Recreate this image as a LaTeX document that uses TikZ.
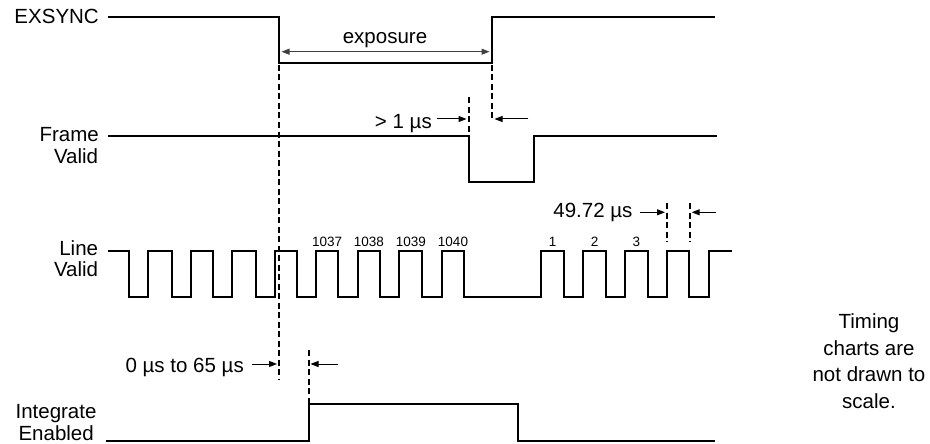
\documentclass[tikz,border=0pt]{standalone}
\usepackage{fontspec}
\setmainfont{Liberation Sans}
\usetikzlibrary{arrows.meta}
\begin{document}
\begin{tikzpicture}[x=1pt,y=-1pt,
  sig/.style={line width=2pt, line join=miter, line cap=butt},
  guide/.style={line width=1.8pt, dash pattern=on 6pt off 3.5pt},
  dim/.style={line width=1pt, -{Triangle[length=8pt,width=6pt]}},
  lbl/.style={font=\fontsize{20.5}{22}\selectfont, inner sep=0pt},
  num/.style={font=\fontsize{13.5}{15}\selectfont, inner sep=0pt, anchor=base},
]
\useasboundingbox (0,0) rectangle (930,444);
% signal names
\node[lbl, anchor=base east] (exsync) at (99,24) {EXSYNC};
\node[lbl, anchor=base east] (frame1) at (99,141.7) {Frame};
\node[lbl, anchor=base east] (frame2) at (98.3,163.3) {Valid};
\node[lbl, anchor=base east] (line1) at (98.3,255) {Line};
\node[lbl, anchor=base east] (line2) at (98.3,276) {Valid};
\node[lbl, anchor=base east] (int1) at (96.7,418) {Integrate};
\node[lbl, anchor=base east] (int2) at (94,440) {Enabled};
% waveforms
\draw[sig] (108,17.3) -- (279,17.3) -- (279,63.3) -- (491.7,63.3) -- (491.7,17.3) -- (715,17.3);
\draw[sig] (108,135.7) -- (469,135.7) -- (469,182) -- (534,182) -- (534,135.7) -- (716.7,135.7);
\def\hi{250.7}\def\lo{296.7}
\draw[sig] (108,\hi) -| (129.3,\lo) -| (148.3,\hi) -| (172.3,\lo) -| (190.7,\hi)
  -| (213.3,\lo) -| (232.3,\hi) -| (256,\lo) -| (275,\hi) -| (296.7,\lo) -| (316,\hi)
  -| (338.3,\lo) -| (357.7,\hi) -| (380,\lo) -| (399.3,\hi) -| (422.3,\lo) -| (441.7,\hi)
  -| (464.3,\lo) -| (541,\hi) -| (564,\lo) -| (583.3,\hi) -| (605.7,\lo) -| (625,\hi)
  -| (647.7,\lo) -| (666.7,\hi) -| (689.3,\lo) -| (709.3,\hi) -- (731.7,\hi);
\draw[sig] (106,441) -- (309,441) -- (309,404) -- (517.7,404) -- (517.7,441) -- (715,441);
% pulse numbers
\node[num] (n1037) at (327.2,246.7) {1037};
\node[num] (n1038) at (368.8,246.7) {1038};
\node[num] (n1039) at (410.8,246.7) {1039};
\node[num] (n1040) at (453,246.7) {1040};
\node[num] (n1) at (552.5,246.7) {1};
\node[num] (n2) at (594.5,246.7) {2};
\node[num] (n3) at (636.4,246.7) {3};
% dashed guides
\coordinate (g1a) at (279,65);    \coordinate (g1b) at (279,380);
\coordinate (g2a) at (491.7,65);  \coordinate (g2b) at (491.7,120);
\coordinate (g3a) at (469,97.3);  \coordinate (g3b) at (469,135);
\coordinate (g4a) at (666.7,203); \coordinate (g4b) at (666.7,242);
\coordinate (g5a) at (690,203);   \coordinate (g5b) at (690,242);
\coordinate (g6a) at (309,350);   \coordinate (g6b) at (309,403);
\foreach \g in {1,...,6} \draw[guide] (g\g a) -- (g\g b);
% dimension arrows and labels
\node[lbl, anchor=base] (expo) at (385,43.3) {exposure};
\coordinate (ea) at (281.5,51.7); \coordinate (eb) at (489.5,51.7);
\draw[line width=1pt, black!75, {Triangle[length=8pt,width=6pt]}-{Triangle[length=8pt,width=6pt]}] (ea) -- (eb);

\node[lbl, anchor=base east] (gt1) at (432,128.3) {> 1 µs};
\coordinate (a1s) at (436.7,119); \coordinate (a1e) at (466.5,119);
\coordinate (a2s) at (528.3,119); \coordinate (a2e) at (494.5,119);
\draw[dim] (a1s) -- (a1e);
\draw[dim] (a2s) -- (a2e);

\node[lbl, anchor=base east] (lv) at (632.7,217.3) {49.72 µs};
\coordinate (b1s) at (640,212.3); \coordinate (b1e) at (665,212.3);
\coordinate (b2s) at (716,212.3); \coordinate (b2e) at (691.7,212.3);
\draw[dim] (b1s) -- (b1e);
\draw[dim] (b2s) -- (b2e);

\node[lbl, anchor=base east] (ie) at (244,372) {0 µs to 65 µs};
\coordinate (c1s) at (252,364); \coordinate (c1e) at (277,364);
\coordinate (c2s) at (337.7,364); \coordinate (c2e) at (310.5,364);
\draw[dim] (c1s) -- (c1e);
\draw[dim] (c2s) -- (c2e);
% note
\node[lbl, anchor=base] (note1) at (869,328.3) {Timing};
\node[lbl, anchor=base] (note2) at (869,355) {charts are};
\node[lbl, anchor=base] (note3) at (869,381.7) {not drawn to};
\node[lbl, anchor=base] (note4) at (869,408.3) {scale.};
\end{tikzpicture}
\end{document}
